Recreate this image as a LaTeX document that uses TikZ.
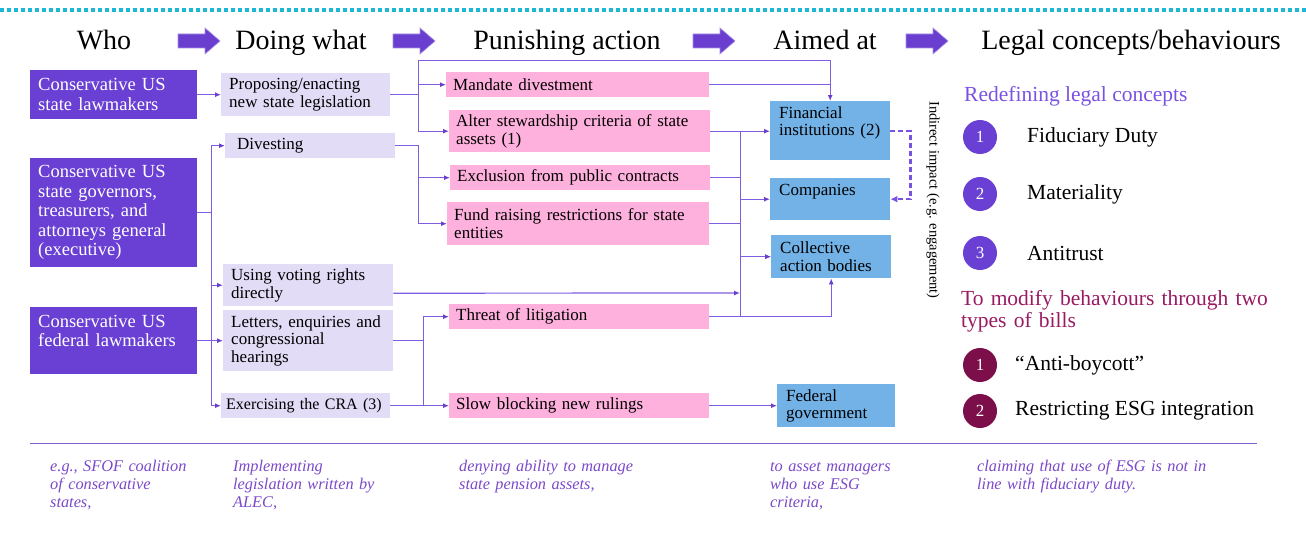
\documentclass[tikz,border=0pt]{standalone}
\usepackage{fontspec}
\setmainfont{Liberation Serif}
\usepackage{xcolor}
\usetikzlibrary{positioning,arrows.meta}

\definecolor{whopurple}{HTML}{6A40D4}
\definecolor{lavender}{HTML}{E3DCF7}
\definecolor{pinkbox}{HTML}{FFB1DE}
\definecolor{bluebox}{HTML}{72B2E6}
\definecolor{linkpurple}{HTML}{7F5DE0}
\definecolor{tippurple}{HTML}{6A3FD0}
\definecolor{dotcyan}{HTML}{1CB9D6}
\definecolor{conceptpurple}{HTML}{7A52E2}
\definecolor{billred}{HTML}{9A1A62}
\definecolor{billdot}{HTML}{7C0E4A}
\definecolor{notepurple}{HTML}{7B49C9}
\definecolor{rulepurple}{HTML}{7E62CC}

\newcommand{\hdrfont}{\fontsize{28}{30}\selectfont}
\newcommand{\whofont}{\fontsize{18.5}{19.5}\selectfont}
\newcommand{\cellfont}{\fontsize{17}{17.5}\selectfont}
\newcommand{\sidefont}{\fontsize{21.5}{22.5}\selectfont}
\newcommand{\notefont}{\fontsize{16.3}{18}\selectfont\itshape}
\newcommand{\rotfont}{\fontsize{14.5}{15}\selectfont}

\tikzset{
	cell/.style={anchor=north west, align=left, inner ysep=0pt, font=\cellfont},
	who/.style={cell, fill=whopurple, text=white, inner xsep=8pt, font=\whofont},
	doing/.style={cell, fill=lavender, inner xsep=8pt},
	punish/.style={cell, fill=pinkbox, inner xsep=7pt},
	aimed/.style={cell, fill=bluebox, inner xsep=9pt},
	header/.style={anchor=base, inner sep=0pt, font=\hdrfont},
	hdrarrow/.style={fill=tippurple, draw=tippurple!60, line width=0.6pt},
	link/.style={draw=linkpurple, line width=1.2pt},
	tip/.style={-{Latex[length=6pt,width=5pt,color=tippurple]}},
	indirect/.style={draw=conceptpurple, line width=2.2pt, dash pattern=on 5pt off 3pt, -{Latex[length=7pt,width=7pt]}},
	numdot/.style={circle, minimum size=34pt, inner sep=0pt, text=white, font=\fontsize{17}{17}\selectfont},
	side/.style={anchor=west, inner sep=0pt, font=\sidefont},
	note/.style={anchor=base west, align=left, text width=250pt, inner sep=0pt, text=notepurple, font=\notefont}
}

\begin{document}
\begin{tikzpicture}[x=1pt,y=-1pt]
	\useasboundingbox (0,0) rectangle (1306,543);
	\draw[dotcyan, line width=3.5pt, dash pattern=on 3.5pt off 3.5pt] (0,10) -- (1306,10);

	\node[header] (hwho) at (104,49) {Who};
	\node[header] (hdoing) at (301,49) {Doing what};
	\node[header] (hpunish) at (567,49) {Punishing action};
	\node[header] (haimed) at (825,49) {Aimed at};
	\node[header] (hlegal) at (1131,49) {Legal concepts/behaviours};
	\filldraw[hdrarrow] (178,34) -- ++(27,0) -- ++(0,-6) -- ++(15,13) -- ++(-15,13) -- ++(0,-6) -- ++(-27,0) -- cycle;
	\filldraw[hdrarrow] (393,34) -- ++(27,0) -- ++(0,-6) -- ++(15,13) -- ++(-15,13) -- ++(0,-6) -- ++(-27,0) -- cycle;
	\filldraw[hdrarrow] (693,34) -- ++(27,0) -- ++(0,-6) -- ++(15,13) -- ++(-15,13) -- ++(0,-6) -- ++(-27,0) -- cycle;
	\filldraw[hdrarrow] (906,34) -- ++(27,0) -- ++(0,-6) -- ++(15,13) -- ++(-15,13) -- ++(0,-6) -- ++(-27,0) -- cycle;

	\node[who, minimum width=167pt, text width=151pt, minimum height=49pt] (statelaw) at (30,70) {Conservative US\\state lawmakers};
	\node[who, minimum width=167pt, text width=151pt, minimum height=109pt] (governors) at (30,158) {Conservative US\\state governors,\\treasurers, and\\attorneys general\\(executive)};
	\node[who, minimum width=167pt, text width=151pt, text height=20pt, text depth=47pt] (federal) at (30,307) {Conservative US\\federal lawmakers};

	\node[doing, minimum width=169pt, text width=153pt, minimum height=43pt] (propose) at (221,73) {Proposing/enacting\\new state legislation};
	\node[doing, minimum width=170pt, text width=146pt, inner xsep=12pt, minimum height=25pt] (divest) at (225,133) {Divesting};
	\node[doing, minimum width=170pt, text width=154pt, minimum height=42pt] (voting) at (223,264) {Using voting rights\\directly};
	\node[doing, minimum width=170pt, text width=154pt, minimum height=61pt] (letters) at (223,310) {Letters, enquiries and\\congressional\\hearings};
	\node[doing, minimum width=169pt, text width=159pt, inner xsep=5pt, minimum height=25pt, font=\fontsize{16}{17}\selectfont] (cra) at (221,393) {Exercising the CRA (3)};

	\node[punish, minimum width=263pt, text width=249pt, minimum height=25pt] (mandate) at (446,72) {Mandate divestment};
	\node[punish, minimum width=261pt, text width=247pt, minimum height=42pt] (alter) at (449,110) {Alter stewardship criteria of state\\assets (1)};
	\node[punish, minimum width=260pt, text width=246pt, minimum height=25pt] (exclusion) at (450,165) {Exclusion from public contracts};
	\node[punish, minimum width=262pt, text width=248pt, minimum height=43pt] (fundraise) at (447,202) {Fund raising restrictions for state\\entities};
	\node[punish, minimum width=260pt, text width=246pt, minimum height=25pt] (threat) at (449,304) {Threat of litigation};
	\node[punish, minimum width=260pt, text width=246pt, minimum height=25pt] (slow) at (449,393) {Slow blocking new rulings};

	\node[aimed, minimum width=120pt, text width=102pt, text height=17pt, text depth=42pt] (fin) at (770,101) {Financial\\institutions (2)};
	\node[aimed, minimum width=120pt, text width=102pt, text height=17pt, text depth=25pt] (comp) at (770,178) {Companies};
	\node[aimed, minimum width=120pt, text width=102pt, minimum height=43pt] (coll) at (771,235) {Collective\\action bodies};
	\node[aimed, minimum width=118pt, text width=100pt, minimum height=43pt] (fedgov) at (777,384) {Federal\\government};

	\coordinate (votebus) at (740,293);

	\draw[link,tip] (statelaw) -- (propose);
	\draw[link,tip] (governors.east) -- ++(14,0) |- (divest.west);
	\draw[link,tip] (governors.east) -- ++(14,0) |- (voting.west);
	\draw[link,tip] (governors.east) -- ++(14,0) |- (cra.west);
	\draw[link,tip] (federal) -- (letters);

	\draw[link,tip] (propose.east) -- ++(28,0) |- (mandate.west);
	\draw[link,tip] (propose.east) -- ++(28,0) |- (alter.west);
	\draw[link,tip] (divest.east) -- ++(23,0) |- (exclusion.west);
	\draw[link,tip] (divest.east) -- ++(23,0) |- (fundraise.west);
	\draw[link,tip] (propose.east) -- ++(28,0) -- ++(0,-34.5) -| (fin.north);
	\draw[link] (mandate.east) -- (mandate.east -| fin.north);

	\draw[link,tip] (alter.east) -- (alter.east -| fin.west);
	\draw[link,tip] (alter.east) -- ++(30,0) |- (comp.west);
	\draw[link,tip] (exclusion.east) -- ++(30,0) |- (coll.west);
	\draw[link] (fundraise.east) -- ++(31,0);
	\draw[link,tip] (threat.east) -- ++(31,0) |- (coll.west);
	\draw[link,tip] (threat.east) -| (coll.south);
	\draw[link,tip] ([yshift=-8pt]voting.east) -- (votebus);

	\draw[link,tip] (letters.east) -- ++(30,0) |- (threat.west);
	\draw[link,tip] (letters.east) -- ++(30,0) |- (slow.west);
	\draw[link] (cra.east) -- ++(33,0);
	\draw[link,tip] (slow) -- (fedgov);

	\draw[indirect] (fin.east) -- ++(20,0) |- (comp.east);
	\node[rotate=-90, inner sep=0pt, font=\rotfont] (indirect) at (933,200) {Indirect impact (e.g. engagement)};

	\node[anchor=base west, inner sep=0pt, font=\sidefont, text=conceptpurple] (redefine) at (964,101) {Redefining legal concepts};
	\node[numdot, fill=whopurple] (c1) at (980,137) {1};
	\node[numdot, fill=whopurple] (c2) at (980,194) {2};
	\node[numdot, fill=whopurple] (c3) at (980,253) {3};
	\node[side] (fiduciary) at (1027,137) {Fiduciary Duty};
	\node[side] (materiality) at (1027,194) {Materiality};
	\node[side] (antitrust) at (1027,253) {Antitrust};

	\node[anchor=base west, align=left, text width=330pt, inner sep=0pt, font=\sidefont, text=billred] (modify) at (961,305) {To modify behaviours through two\\types of bills};
	\node[numdot, fill=billdot] (b1) at (980,365) {1};
	\node[numdot, fill=billdot] (b2) at (980,411) {2};
	\node[side] (boycott) at (1015,365) {“Anti-boycott”};
	\node[side] (restrict) at (1015,411) {Restricting ESG integration};

	\draw[rulepurple, line width=1pt] (30,443) -- (1257,443);

	\node[note] (n1) at (50,471) {e.g., SFOF coalition\\of conservative\\states,};
	\node[note] (n2) at (233,471) {Implementing\\legislation written by\\ALEC,};
	\node[note] (n3) at (459,471) {denying ability to manage\\state pension assets,};
	\node[note] (n4) at (770,471) {to asset managers\\who use ESG\\criteria,};
	\node[note] (n5) at (977,471) {claiming that use of ESG is not in\\line with fiduciary duty.};
\end{tikzpicture}
\end{document}
